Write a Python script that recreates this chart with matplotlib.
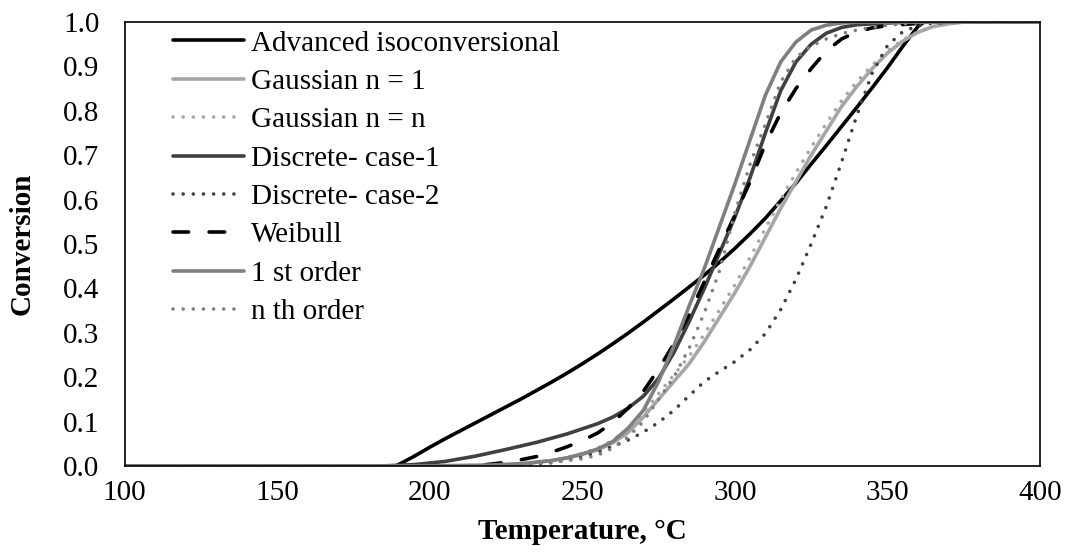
import matplotlib
matplotlib.use("Agg")
import matplotlib.pyplot as plt

plt.rcParams["font.family"] = ["Liberation Serif", "DejaVu Serif"]

# conversion curves, temperature in degC
adv_T = [100, 189, 195, 200, 205, 210, 215, 220, 225, 230, 235, 240, 245, 250, 255, 260, 265, 270, 275, 280,
         285, 290, 295, 300, 305, 310, 315, 320, 325, 330, 335, 340, 345, 350, 355, 360, 362, 400]
adv_c = [0, 0, 0.022, 0.042, 0.061, 0.079, 0.097, 0.115, 0.133, 0.151, 0.17, 0.189, 0.209, 0.23, 0.252, 0.275,
         0.299, 0.324, 0.35, 0.376, 0.403, 0.43, 0.459, 0.49, 0.523, 0.558, 0.597, 0.637, 0.68, 0.722, 0.765,
         0.808, 0.852, 0.897, 0.945, 0.99, 1.0, 1.0]

gauss1_T = [100, 220, 230, 240, 245, 250, 255, 260, 265, 270, 275, 280, 285, 290, 295, 300, 305, 310, 315, 320,
            325, 330, 335, 340, 345, 350, 355, 360, 365, 370, 375, 400]
gauss1_c = [0, 0, 0.004, 0.012, 0.018, 0.026, 0.036, 0.052, 0.075, 0.11, 0.15, 0.19, 0.23, 0.28, 0.335, 0.39,
            0.45, 0.515, 0.58, 0.64, 0.70, 0.755, 0.81, 0.855, 0.895, 0.93, 0.957, 0.977, 0.99, 0.996, 1.0, 1.0]

gaussn_T = [100, 220, 230, 240, 245, 250, 255, 260, 265, 270, 275, 280, 285, 290, 295, 300, 305, 310, 315, 320,
            325, 330, 335, 340, 345, 350, 355, 360, 365, 370, 375, 400]
gaussn_c = [0, 0, 0.004, 0.012, 0.019, 0.028, 0.04, 0.058, 0.083, 0.12, 0.163, 0.205, 0.247, 0.297, 0.352, 0.408,
            0.47, 0.535, 0.60, 0.66, 0.718, 0.772, 0.823, 0.866, 0.903, 0.935, 0.96, 0.978, 0.99, 0.996, 1.0, 1.0]

disc1_T = [100, 185, 195, 205, 215, 225, 235, 245, 255, 260, 265, 270, 275, 280, 285, 290, 295, 300, 305, 310,
           315, 320, 325, 330, 335, 340, 350, 360, 400]
disc1_c = [0, 0, 0.003, 0.01, 0.022, 0.037, 0.053, 0.072, 0.095, 0.11, 0.13, 0.157, 0.197, 0.255, 0.325, 0.40,
           0.48, 0.56, 0.65, 0.75, 0.845, 0.91, 0.95, 0.975, 0.988, 0.994, 0.998, 1.0, 1.0]

disc2_T = [100, 215, 225, 235, 240, 245, 250, 255, 260, 265, 270, 275, 280, 285, 290, 295, 300, 305, 310, 315,
           320, 325, 330, 335, 340, 345, 350, 355, 360, 365, 370, 400]
disc2_c = [0, 0, 0.001, 0.004, 0.007, 0.013, 0.02, 0.031, 0.044, 0.058, 0.076, 0.098, 0.125, 0.158, 0.19, 0.213,
           0.235, 0.262, 0.298, 0.352, 0.42, 0.50, 0.585, 0.685, 0.79, 0.885, 0.947, 0.978, 0.992, 0.998, 1.0, 1.0]

weib_T = [100, 215, 220, 225, 230, 235, 240, 245, 250, 255, 260, 265, 270, 275, 280, 285, 290, 295, 300, 305,
          310, 315, 320, 325, 330, 335, 340, 345, 350, 360, 370, 400]
weib_c = [0, 0, 0.004, 0.008, 0.014, 0.021, 0.031, 0.043, 0.057, 0.074, 0.098, 0.13, 0.168, 0.218, 0.275, 0.34,
          0.415, 0.49, 0.565, 0.64, 0.725, 0.795, 0.85, 0.895, 0.935, 0.962, 0.978, 0.987, 0.992, 0.997, 1.0, 1.0]

first_T = [100, 200, 220, 230, 240, 245, 250, 255, 260, 265, 270, 275, 280, 285, 290, 295, 300, 305, 310, 315,
           320, 325, 330, 335, 340, 400]
first_c = [0, 0, 0.002, 0.005, 0.012, 0.018, 0.027, 0.038, 0.055, 0.085, 0.125, 0.19, 0.27, 0.36, 0.445, 0.54,
           0.635, 0.735, 0.835, 0.91, 0.955, 0.982, 0.993, 0.998, 1.0, 1.0]

nth_T = [100, 215, 230, 240, 250, 255, 260, 265, 270, 275, 280, 285, 290, 295, 300, 305, 310, 315, 320, 325,
         330, 335, 340, 345, 350, 360, 365, 400]
nth_c = [0, 0, 0.003, 0.008, 0.016, 0.024, 0.04, 0.065, 0.10, 0.15, 0.20, 0.265, 0.345, 0.44, 0.57, 0.68, 0.77,
         0.865, 0.92, 0.946, 0.962, 0.974, 0.982, 0.988, 0.993, 0.998, 1.0, 1.0]

x_ticks = [100, 150, 200, 250, 300, 350, 400]
y_ticks = [0.0, 0.1, 0.2, 0.3, 0.4, 0.5, 0.6, 0.7, 0.8, 0.9, 1.0]

lw = 2.6
dots = (0, (0.01, 2.8))
dashes = (0, (4.3, 5.7))

fig = plt.figure(figsize=(10.65, 5.52), dpi=100)
ax = fig.add_axes([0.117, 0.156, 0.8595, 0.804])

series = [
    (adv_T, adv_c, "Advanced isoconversional", "#000000", "-"),
    (gauss1_T, gauss1_c, "Gaussian n = 1", "#a6a6a6", "-"),
    (gaussn_T, gaussn_c, "Gaussian n = n", "#a6a6a6", dots),
    (disc1_T, disc1_c, "Discrete- case-1", "#404040", "-"),
    (disc2_T, disc2_c, "Discrete- case-2", "#404040", dots),
    (weib_T, weib_c, "Weibull", "#000000", dashes),
    (first_T, first_c, "1 st order", "#7f7f7f", "-"),
    (nth_T, nth_c, "n th order", "#7f7f7f", dots),
]
for T, c, name, col, ls in series:
    ax.plot(T, c, color=col, linestyle=ls, lw=lw, label=name,
            dash_capstyle="round", solid_capstyle="round", solid_joinstyle="round")

ax.set_xlim(100, 400)
ax.set_ylim(0, 1)
ax.set_xticks(x_ticks)
ax.set_yticks(y_ticks)
ax.set_yticklabels([f"{v:.1f}" for v in y_ticks])
ax.tick_params(length=0, labelsize=21)
ax.tick_params(axis="y", pad=18)
ax.tick_params(axis="x", pad=10)
for s in ax.spines.values():
    s.set_color("#000000")
    s.set_linewidth(1.2)

ax.set_xlabel("Temperature, °C", fontsize=21, fontweight="bold", labelpad=9)
ax.set_ylabel("Conversion", fontsize=21, fontweight="bold", labelpad=20)

ax.legend(loc="upper left", bbox_to_anchor=(0.04, 1.008), frameon=False, fontsize=21,
          handlelength=2.45, handletextpad=0.22, labelspacing=0.41, borderaxespad=0)

fig.savefig("out.png", dpi=100)
